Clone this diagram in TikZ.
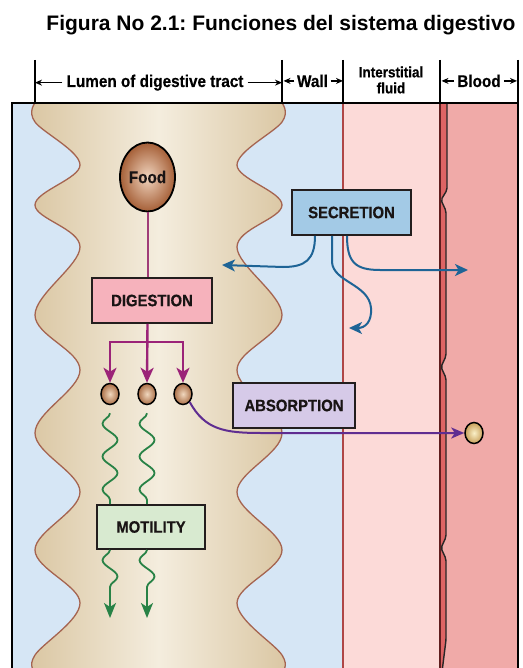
\documentclass[tikz,border=0pt]{standalone}
\usepackage{fontspec}
\setmainfont{Liberation Sans}
\newfontfamily\condf[FakeStretch=0.9, BoldFeatures={FakeBold=0.5}]{Liberation Sans}
\usetikzlibrary{arrows.meta,decorations.pathmorphing,shapes.geometric}
\frenchspacing

\definecolor{bgblue}{RGB}{214,230,245}
\definecolor{tanD}{RGB}{218,198,162}
\definecolor{tanL}{RGB}{244,237,222}
\definecolor{tanline}{RGB}{165,100,80}
\definecolor{interpink}{RGB}{252,218,216}
\definecolor{bloodpink}{RGB}{240,170,168}
\definecolor{endo}{RGB}{222,100,100}
\definecolor{wallline}{RGB}{175,70,70}
\definecolor{vesline}{RGB}{95,30,30}
\definecolor{digfill}{RGB}{246,178,188}
\definecolor{secfill}{RGB}{163,202,230}
\definecolor{absfill}{RGB}{214,202,232}
\definecolor{motfill}{RGB}{216,234,208}
\definecolor{boxline}{RGB}{35,30,30}
\definecolor{boxtext}{RGB}{25,20,20}
\definecolor{purpA}{RGB}{155,35,120}
\definecolor{foodline}{RGB}{160,60,120}
\definecolor{violetA}{RGB}{95,45,145}
\definecolor{secblue}{RGB}{30,100,150}
\definecolor{motgreen}{RGB}{40,130,70}
\definecolor{foodL}{RGB}{240,212,190}
\definecolor{foodD}{RGB}{165,95,55}
\definecolor{partL}{RGB}{240,215,190}
\definecolor{partD}{RGB}{170,110,70}
\definecolor{bpL}{RGB}{250,240,200}
\definecolor{bpD}{RGB}{200,160,90}

\begin{document}
\begin{tikzpicture}[x=1pt,y=-1pt,
  hdr/.style={font=\condf\bfseries\fontsize{17}{19}\selectfont, inner xsep=4pt, inner ysep=0pt, text=black},
  harrow/.style={line width=1.2pt, -{Stealth[length=7pt,width=6pt]}},
  tickline/.style={line width=1.1pt},
  box/.style={draw=boxline, line width=1.6pt, inner sep=0pt, font=\condf\bfseries\fontsize{16.5}{18}\selectfont, text=boxtext},
  particle/.style={ellipse, draw=black, line width=1.5pt, minimum width=18pt, minimum height=21pt, inner sep=0pt, inner color=partL, outer color=partD},
  digarrow/.style={purpA, line width=2.4pt, -{Stealth[length=15pt,width=13pt,inset=4pt]}},
  secarrow/.style={secblue, line width=2pt, -{Stealth[length=13pt,width=12pt,inset=3.5pt]}},
  absarrow/.style={violetA, line width=2pt, -{Stealth[length=13pt,width=11pt,inset=3.5pt]}},
  motil/.style={motgreen, line width=1.8pt, decorate, decoration={snake, amplitude=7.5pt, segment length=33pt, mirror}},
  motilarrow/.style={motgreen, line width=1.8pt, decorate, decoration={snake, amplitude=7.5pt, segment length=33pt, mirror, post length=16pt}, -{Stealth[length=15pt,width=12pt,inset=4pt]}}
]
\useasboundingbox (0,0) rectangle (522,668);
\clip (0,0) rectangle (522,668);

% title
\node[font=\bfseries\fontsize{21}{24}\selectfont, anchor=base, inner sep=0pt] (title) at (281,31) {Figura No 2.1: Funciones del sistema digestivo};

% backgrounds
\fill[bgblue] (12,103) rectangle (343,672);
\fill[interpink] (343,103) rectangle (440,672);
\fill[bloodpink] (440,103) rectangle (518,672);

% lumen
\shade[left color=tanD, right color=tanD, middle color=tanL]
  plot[smooth, tension=0.6] coordinates {(35,103) (35,122) (80,165) (35,205) (80,247) (35,315) (80,370) (35,433) (80,492) (35,550) (80,603) (35,655) (35,672)}
  -- plot[smooth, tension=0.6] coordinates {(282,672) (282,655) (237,603) (282,550) (237,492) (282,433) (237,370) (282,315) (237,247) (282,205) (237,165) (282,122) (282,103)} -- cycle;
\draw[tanline, line width=1.3pt] plot[smooth, tension=0.6] coordinates {(35,103) (35,122) (80,165) (35,205) (80,247) (35,315) (80,370) (35,433) (80,492) (35,550) (80,603) (35,655) (35,672)};
\draw[tanline, line width=1.3pt] plot[smooth, tension=0.6] coordinates {(282,672) (282,655) (237,603) (282,550) (237,492) (282,433) (237,370) (282,315) (237,247) (282,205) (237,165) (282,122) (282,103)};

% wall / vessel lines
\draw[wallline, line width=1.2pt] (343,103) -- (343,672);
\fill[endo] (440,103) -- (447,103) -- (447,190) -- (441,200) -- (446,211) -- (446,356) -- (441,367) -- (446,378) -- (446,537) -- (441,548) -- (446,559) -- (446,640) -- (442,672) -- (440,672) -- cycle;
\draw[vesline, line width=1.3pt] (440,103) -- (440,672);
\draw[black!85, line width=1.4pt, rounded corners=2pt] (447,103) -- (447,190) -- (441,200) -- (446,211) -- (446,356) -- (441,367) -- (446,378) -- (446,537) -- (441,548) -- (446,559) -- (446,640) -- (442,672);

% frame
\draw[line width=2pt] (12,672) -- (12,103) -- (518,103) -- (518,672);

% header
\coordinate (t1) at (35,60);
\coordinate (t2) at (282,60);
\coordinate (t3) at (343,60);
\coordinate (t4) at (440,60);
\coordinate (t5) at (518,60);
\foreach \t in {t1,t2,t3,t4,t5} \draw[tickline] (\t) -- (\t |- 0,103);
\node[hdr, anchor=base] (lum) at (155,87) {Lumen of digestive tract};
\node[hdr, anchor=base, inner xsep=2.5pt] (wall) at (312.5,87) {Wall};
\node[hdr, align=center, font=\condf\bfseries\fontsize{15}{16}\selectfont] (inter) at (391,80) {Interstitial\\fluid};
\node[hdr, anchor=base, inner xsep=3pt] (blood) at (479,87) {Blood};
\draw[harrow] (lum.west) -- (lum.west -| t1);
\draw[harrow] (lum.east) -- (lum.east -| t2);
\draw[harrow] (wall.west) -- ([xshift=1.5pt]wall.west -| t2);
\draw[harrow] (wall.east) -- (wall.east -| t3);
\draw[harrow] (blood.west) -- ([xshift=1.5pt]blood.west -| t4);
\draw[harrow] (blood.east) -- ([xshift=-1pt]blood.east -| t5);

% nodes
\node[ellipse, draw=black, line width=1.8pt, minimum width=55pt, minimum height=69pt, inner sep=0pt, inner color=foodL, outer color=foodD, font=\condf\bfseries\fontsize{17}{18}\selectfont, text=boxtext] (food) at (147.5,177) {Food};
\node[box, fill=digfill, minimum width=120pt, minimum height=45pt] (dig) at (152,300.5) {DIGESTION};
\node[box, fill=secfill, minimum width=119pt, minimum height=45pt] (sec) at (351.5,212.5) {SECRETION};
\node[box, fill=absfill, minimum width=122pt, minimum height=45pt] (abs) at (294,405.5) {ABSORPTION};
\node[box, fill=motfill, minimum width=108pt, minimum height=44pt] (mot) at (151,527) {MOTILITY};
\node[particle] (p1) at (110,394) {};
\node[particle] (p2) at (147,394) {};
\node[particle] (p3) at (183,394) {};
\node[particle, inner color=bpL, outer color=bpD] (bp) at (474,433) {};

% food to digestion
\draw[foodline, line width=2pt] (food.south) -- (food |- dig.north);
\coordinate (dj) at (147,342);
\draw[digarrow] (food |- dig.south) -- (p2.north);
\draw[digarrow] (dj) -- (p1 |- dj) -- (p1.north);
\draw[digarrow] (dj) -- (p3 |- dj) -- (p3.north);

% absorption
\draw[absarrow] (p3.-50) .. controls (205,430) and (225,433) .. (262,433) -- (bp.west);

% secretion
\coordinate (secL) at (222,265);
\coordinate (secD) at (349,328);
\coordinate (secR) at (468,270);
\draw[secarrow] ([xshift=-36.5pt]sec.south) .. controls (315,260) and (305,267) .. (283,267) -- (secL);
\draw[secarrow] ([xshift=-19.5pt]sec.south) -- (332,262) .. controls (333,282) and (369,284) .. (371,308) .. controls (372,322) and (365,328) .. (secD);
\draw[secarrow] ([xshift=-4.5pt]sec.south) .. controls (347,262) and (355,270) .. (380,270) -- (secR);

% motility
\coordinate (m1) at (110,618);
\coordinate (m2) at (147,618);
\draw[motil] ([yshift=-8pt]p1.south) -- (p1 |- mot.north);
\draw[motil] ([yshift=-8pt]p2.south) -- (p2 |- mot.north);
\draw[motilarrow] (p1 |- mot.south) -- (m1);
\draw[motilarrow] (p2 |- mot.south) -- (m2);
\end{tikzpicture}
\end{document}
